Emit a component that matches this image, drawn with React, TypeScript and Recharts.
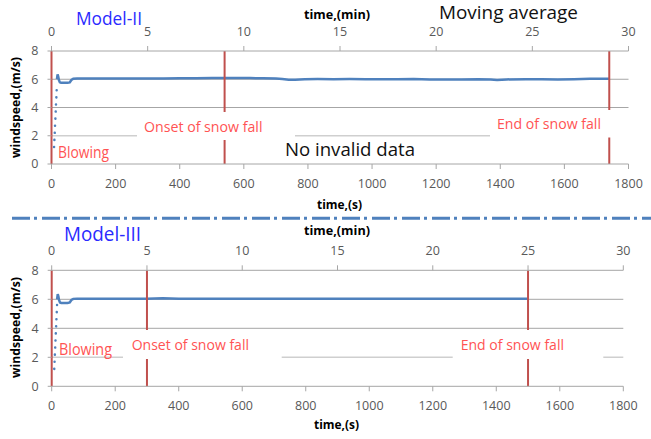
import React from 'react';
import { LineChart, Line, XAxis, YAxis, ReferenceLine } from 'recharts';

// ---- tick labels ----
const secTicks = [0, 200, 400, 600, 800, 1000, 1200, 1400, 1600, 1800];
const minTicks = [0, 5, 10, 15, 20, 25, 30];
const speedTicks = [0, 2, 4, 6, 8];

// ---- Model-II (moving average) ----
const m2RampTime = [8, 9.5, 11, 12.5, 14, 15.5, 17];
const m2RampSpeed = [1.2, 1.9, 2.7, 3.4, 4.2, 4.9, 5.7];
const m2Time = [17, 19, 21, 23, 26, 30, 40, 50, 57, 62, 68, 80, 100, 130, 160, 200, 250, 300, 350, 400, 450, 500, 540, 580, 620, 660, 700, 720, 740, 760, 790, 830, 880, 930, 980, 1030, 1080, 1130, 1180, 1230, 1280, 1330, 1370, 1390, 1420, 1480, 1530, 1580, 1630, 1680, 1710, 1740];
const m2Speed = [6.0, 6.35, 6.2, 5.95, 5.78, 5.75, 5.75, 5.75, 5.78, 5.95, 6.04, 6.06, 6.05, 6.06, 6.05, 6.06, 6.05, 6.06, 6.06, 6.07, 6.07, 6.08, 6.08, 6.09, 6.08, 6.07, 6.05, 6.02, 5.96, 5.97, 6.0, 6.01, 6.0, 6.01, 6.0, 6.0, 6.0, 6.01, 5.99, 5.98, 5.99, 6.0, 5.98, 5.95, 5.99, 6.0, 6.0, 5.98, 6.0, 6.03, 6.04, 6.03];
const m2Events = [0, 540, 1740];

// ---- Model-III ----
const m3RampTime = [8, 9.5, 11, 12.5, 14, 15.5, 17];
const m3RampSpeed = [1.2, 1.9, 2.7, 3.4, 4.2, 4.9, 5.7];
const m3Time = [17, 19, 21, 23, 26, 30, 40, 50, 57, 62, 68, 80, 100, 130, 160, 200, 250, 300, 350, 400, 450, 500, 550, 600, 650, 700, 750, 800, 850, 900, 950, 1000, 1050, 1100, 1150, 1200, 1250, 1300, 1350, 1400, 1450, 1500];
const m3Speed = [6.0, 6.35, 6.2, 5.95, 5.78, 5.75, 5.75, 5.75, 5.78, 5.95, 6.03, 6.04, 6.03, 6.04, 6.03, 6.04, 6.03, 6.04, 6.07, 6.04, 6.03, 6.04, 6.03, 6.04, 6.03, 6.04, 6.03, 6.04, 6.03, 6.04, 6.03, 6.04, 6.03, 6.04, 6.04, 6.03, 6.04, 6.04, 6.03, 6.04, 6.03, 6.04];
const m3Events = [0, 300, 1500];

const toRows = (t: number[], v: number[]) => t.map((x, i) => ({ t: x, v: v[i] }));
const minuteRows = minTicks.map((m) => ({ t: m, v: null }));

const FONT = '"Open Sans", "Liberation Sans", sans-serif';
const GRID = '#a6a6a6';
const RED_LINE = '#c0504d';
const RED_TEXT = '#ff5353';
const BLUE = '#4f81bd';
const tickStyle = { fill: '#595959', fontSize: 12.5, fontFamily: FONT };

function Panel({ ramp, main, events, margin, yWidth }: any) {
  return (
    <LineChart width={651} height={200} margin={margin}>
      <XAxis
        dataKey="t"
        type="number"
        domain={[0, 1800]}
        ticks={secTicks}
        interval={0}
        allowDataOverflow
        orientation="bottom"
        height={30}
        tickSize={5}
        tickMargin={10}
        stroke={GRID}
        tick={tickStyle}
      />
      <XAxis
        xAxisId="m"
        dataKey="t"
        type="number"
        domain={[0, 30]}
        ticks={minTicks}
        interval={0}
        allowDataOverflow
        orientation="top"
        height={30}
        tickSize={5}
        tickMargin={10}
        stroke={GRID}
        tick={tickStyle}
      />
      <YAxis
        type="number"
        domain={[0, 8]}
        ticks={speedTicks}
        interval={0}
        allowDataOverflow
        width={yWidth}
        tickSize={4}
        tickMargin={9}
        stroke={GRID}
        axisLine={false}
        tick={tickStyle}
      />
      <ReferenceLine y={2} stroke="#cfcfcf" strokeWidth={1.5} />
      <ReferenceLine y={4} stroke={GRID} strokeWidth={1} />
      <ReferenceLine y={6} stroke={GRID} strokeWidth={1} />
      <Line
        xAxisId="m"
        data={minuteRows}
        dataKey="v"
        stroke="none"
        dot={false}
        activeDot={false}
        legendType="none"
        isAnimationActive={false}
      />
      <Line
        data={ramp}
        dataKey="v"
        type="linear"
        stroke={BLUE}
        strokeWidth={2.5}
        strokeDasharray="0.1 7"
        strokeLinecap="round"
        dot={false}
        isAnimationActive={false}
      />
      <Line
        data={main}
        dataKey="v"
        type="linear"
        stroke={BLUE}
        strokeWidth={2.5}
        dot={false}
        isAnimationActive={false}
      />
      {events.map((x: number) => (
        <ReferenceLine key={x} x={x} stroke={RED_LINE} strokeWidth={2} />
      ))}
    </LineChart>
  );
}

function Txt({ x, y, w, size, color, bold, children }: any) {
  return (
    <text
      x={x}
      y={y}
      fontSize={size}
      fill={color}
      fontFamily={FONT}
      fontWeight={bold ? 700 : 400}
      textLength={w}
      lengthAdjust="spacingAndGlyphs"
    >
      {children}
    </text>
  );
}

export default function App() {
  return (
    <div style={{ position: 'absolute', left: 0, top: 0, width: 651, height: 439, background: '#fff' }}>
      <div style={{ position: 'absolute', left: 0, top: 0 }}>
        <Panel
          ramp={toRows(m2RampTime, m2RampSpeed)}
          main={toRows(m2Time, m2Speed)}
          events={m2Events}
          margin={{ top: 21, right: 22.5, bottom: 6, left: 0 }}
          yWidth={51.5}
        />
      </div>
      <div style={{ position: 'absolute', left: 0, top: 220 }}>
        <Panel
          ramp={toRows(m3RampTime, m3RampSpeed)}
          main={toRows(m3Time, m3Speed)}
          events={m3Events}
          margin={{ top: 20.3, right: 27.7, bottom: 3.7, left: 0 }}
          yWidth={51.7}
        />
      </div>
      <svg width={651} height={439} style={{ position: 'absolute', left: 0, top: 0, pointerEvents: 'none' }}>
        <line x1={12} x2={651} y1={218.3} y2={218.3} stroke={BLUE} strokeWidth={3} strokeDasharray="18 4 3 5" />

        {/* ---- top panel annotations ---- */}
        <rect x={137} y={112} width={158} height={28} fill="#fff" />
        <rect x={490} y={110} width={150} height={27.5} fill="#fff" />
        <Txt x={76} y={25} w={66} size={19} color="#2a2aff">Model-II</Txt>
        <Txt x={439} y={18.5} w={139} size={19} color="#111">Moving average</Txt>
        <Txt x={304} y={18.5} w={66} size={13} color="#000" bold>time,(min)</Txt>
        <Txt x={317} y={208.5} w={45} size={13} color="#000" bold>time,(s)</Txt>
        <Txt x={144} y={131.5} w={118.5} size={15} color={RED_TEXT}>Onset of snow fall</Txt>
        <Txt x={497} y={129.3} w={104} size={15} color={RED_TEXT}>End of snow fall</Txt>
        <Txt x={58} y={158.3} w={51} size={16} color={RED_TEXT}>Blowing</Txt>
        <Txt x={285} y={156} w={130} size={18} color="#111">No invalid data</Txt>
        <text x={20} y={107.5} transform="rotate(-90 20 107.5)" textAnchor="middle" fontSize={13} fontWeight={700} fontFamily={FONT} textLength={101} lengthAdjust="spacingAndGlyphs">windspeed,(m/s)</text>

        {/* ---- bottom panel annotations ---- */}
        <rect x={123} y={330} width={158.7} height={29} fill="#fff" />
        <rect x={452.7} y={330} width={150.6} height={29} fill="#fff" />
        <Txt x={64} y={241} w={77} size={20} color="#2a2aff">Model-III</Txt>
        <Txt x={304} y={235} w={66} size={13} color="#000" bold>time,(min)</Txt>
        <Txt x={314} y={428.5} w={45} size={13} color="#000" bold>time,(s)</Txt>
        <Txt x={131.7} y={350} w={117.3} size={15} color={RED_TEXT}>Onset of snow fall</Txt>
        <Txt x={460.7} y={350} w={103.3} size={15} color={RED_TEXT}>End of snow fall</Txt>
        <Txt x={59} y={355} w={53} size={16} color={RED_TEXT}>Blowing</Txt>
        <text x={20} y={327.5} transform="rotate(-90 20 327.5)" textAnchor="middle" fontSize={13} fontWeight={700} fontFamily={FONT} textLength={101} lengthAdjust="spacingAndGlyphs">windspeed,(m/s)</text>
      </svg>
    </div>
  );
}
